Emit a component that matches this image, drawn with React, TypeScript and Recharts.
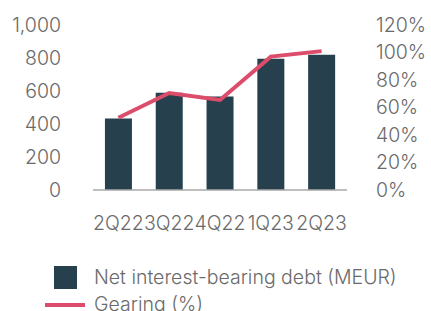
import { ComposedChart, Bar, Line, XAxis, YAxis } from "recharts";

const quarters = ["2Q22", "3Q22", "4Q22", "1Q23", "2Q23"];
const netDebt = [434, 590, 566, 795, 819];
const gearing = [52.5, 70.5, 65.5, 97, 101];
const leftTicks = [0, 200, 400, 600, 800, 1000];
const rightTicks = [0, 20, 40, 60, 80, 100, 120];

const BAR_COLOR = "#26404d";
const LINE_COLOR = "#dc4d6b";
const TEXT_COLOR = "#6a6a6a";
const FONT = "Inter, 'Liberation Sans', sans-serif";
const FONT_SIZE = 19.5;

const data = quarters.map((q, i) => ({
  quarter: q,
  debt: netDebt[i],
  gearing: gearing[i],
}));

const tickStyle = { fill: TEXT_COLOR, fontSize: FONT_SIZE, fontWeight: 300, fontFamily: FONT };

export default function App() {
  return (
    <div style={{ position: "absolute", left: 0, top: 0, width: 431, height: 311, overflow: "hidden", background: "#fff", fontFamily: FONT }}>
      <ComposedChart
        width={431}
        height={311}
        data={data}
        margin={{ top: 25, right: 0, left: 0, bottom: 81 }}
        barCategoryGap="23.5%"
      >
        <XAxis
          dataKey="quarter"
          interval={0}
          tickLine={false}
          axisLine={{ stroke: "#a8a8a8", strokeWidth: 1.5 }}
          tick={tickStyle}
          tickMargin={20}
          height={40}
        />
        <YAxis
          yAxisId="left"
          domain={[0, 1000]}
          ticks={leftTicks}
          tickFormatter={(v: number) => v.toLocaleString("en-US")}
          axisLine={false}
          tickLine={false}
          tickSize={0}
          tickMargin={32}
          width={93}
          tick={tickStyle}
        />
        <YAxis
          yAxisId="right"
          orientation="right"
          domain={[0, 120]}
          ticks={rightTicks}
          tickFormatter={(v: number) => `${v}%`}
          axisLine={false}
          tickLine={false}
          tickSize={0}
          tickMargin={29}
          width={84}
          tick={{ ...tickStyle, textAnchor: "start" }}
        />
        <Bar yAxisId="left" dataKey="debt" name="Net interest-bearing debt (MEUR)" fill={BAR_COLOR} isAnimationActive={false} />
        <Line
          yAxisId="right"
          dataKey="gearing"
          name="Gearing (%)"
          type="linear"
          stroke={LINE_COLOR}
          strokeWidth={4}
          dot={false}
          isAnimationActive={false}
        />
      </ComposedChart>
      <div style={{ position: "absolute", left: 45, top: 264, color: TEXT_COLOR, fontSize: FONT_SIZE, fontWeight: 300, lineHeight: "27px" }}>
        <div style={{ display: "flex", alignItems: "center" }}>
          <span style={{ display: "inline-block", width: 23, height: 23, background: BAR_COLOR, marginLeft: 9, marginRight: 17 }} />
          Net interest-bearing debt (MEUR)
        </div>
        <div style={{ display: "flex", alignItems: "center" }}>
          <span style={{ display: "inline-block", width: 40, height: 4, background: LINE_COLOR, marginRight: 9 }} />
          Gearing (%)
        </div>
      </div>
    </div>
  );
}
